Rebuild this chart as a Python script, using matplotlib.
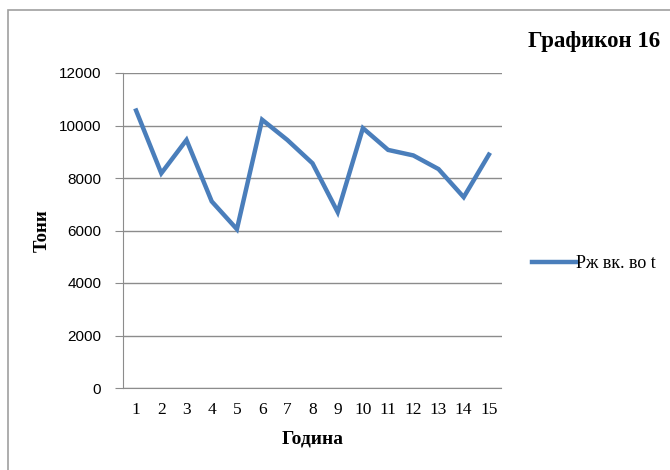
import matplotlib.pyplot as plt
from matplotlib.patches import Rectangle

years = list(range(1, 16))
tons = [10570, 8180, 9450, 7110, 6050, 10220, 9450, 8560, 6700, 9900,
        9070, 8860, 8340, 7270, 8890]
y_ticks = [0, 2000, 4000, 6000, 8000, 10000, 12000]

W, H = 670, 470
fig = plt.figure(figsize=(W / 100, H / 100), dpi=100)

# outer chart frame (runs off the right and bottom edges)
fig.patches.append(Rectangle((8 / W, -0.1), 1.2, 1 - 10 / H + 0.1,
                             transform=fig.transFigure, fill=False,
                             edgecolor='#a0a0a0', linewidth=1.2))

ax = fig.add_axes([123.5 / W, 1 - 388 / H, (501.5 - 123.5) / W, (388 - 73) / H])
ax.plot(years, tons, color='#4a7ebb', linewidth=3.2, solid_joinstyle='miter',
        label='Рж вк. во t')

ax.set_xlim(0.5, 15.5)
ax.set_ylim(0, 12000)
ax.set_yticks(y_ticks)
ax.set_yticklabels([str(v) for v in y_ticks], fontfamily='Liberation Sans', fontsize=11)
ax.set_xticks(years)
ax.set_xticklabels([str(v) for v in years], fontfamily='Liberation Serif', fontsize=12.5)
ax.grid(axis='y', color='#8c8c8c', linewidth=1)
ax.set_axisbelow(True)
for s in ['top', 'right']:
    ax.spines[s].set_visible(False)
ax.spines['left'].set_color('#8c8c8c')
ax.spines['bottom'].set_color('#8c8c8c')
ax.tick_params(axis='y', length=6, color='#8c8c8c', pad=10)
ax.tick_params(axis='x', length=0, pad=10)

ax.set_ylabel('Тони', fontfamily='Liberation Serif', fontweight='bold', fontsize=13.5, labelpad=6)
ax.set_xlabel('Година', fontfamily='Liberation Serif', fontweight='bold', fontsize=14, labelpad=9)

fig.text(594 / W, 1 - 42 / H, 'Графикон 16', fontfamily='Liberation Serif',
         fontweight='bold', fontsize=16.5, ha='center', va='center')

ax.legend(loc='center left', bbox_to_anchor=(516 / W, 1 - 264 / H),
          bbox_transform=fig.transFigure, frameon=False, handlelength=2.4,
          handletextpad=0.05, prop={'family': 'Liberation Serif', 'size': 13})

fig.savefig('out.png', dpi=100)
